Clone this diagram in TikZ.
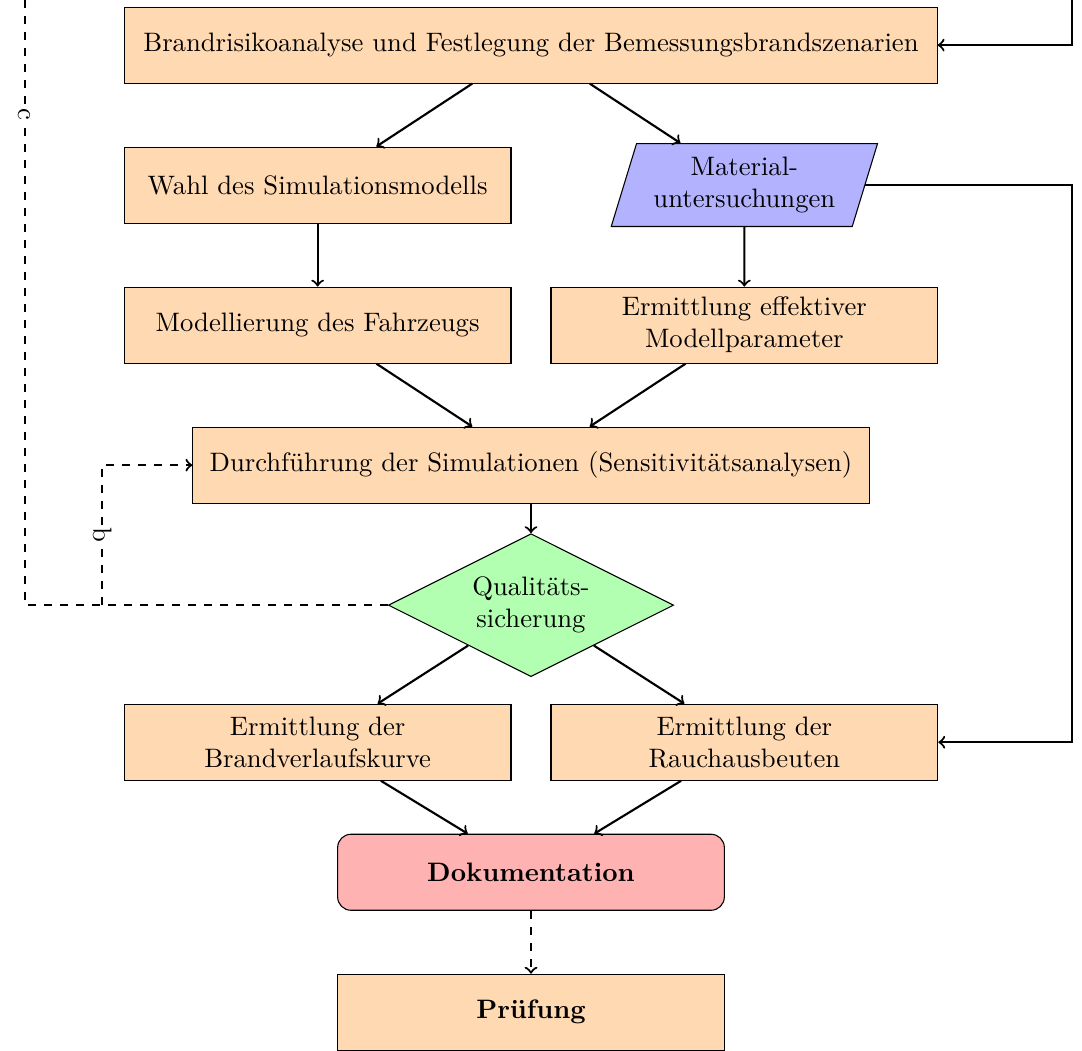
\documentclass[tikz,border=0pt]{standalone}
\usepackage{tikz}
\usetikzlibrary{positioning, shapes.geometric}

\begin{document}
\begin{tikzpicture}[on grid, node distance=52.5pt and 80pt,
	box/.style={rectangle, draw, fill=orange!30, minimum width=145pt, minimum height=28.5pt, align=center},
	io/.style={trapezium, trapezium left angle=73, trapezium right angle=107, draw, fill=blue!30, minimum width=100pt, minimum height=28.5pt, align=center, inner xsep=2pt},
	decision/.style={diamond, aspect=2, draw, fill=green!30, minimum width=107pt, minimum height=53.6pt, inner sep=0pt, align=center},
	doc/.style={box, rounded corners=5pt, fill=red!30, font=\bfseries},
	lbl/.style={fill=white, inner sep=1pt, rotate=-90}]
	\useasboundingbox (-199.1pt,16.9pt) rectangle (206.6pt,-376.9pt);
	\clip (-199.1pt,16.9pt) rectangle (206.6pt,-376.9pt);

	\node[box, minimum width=304.5pt] (risk) at (0,0) {Brandrisikoanalyse und Festlegung der Bemessungsbrandszenarien};
	\node[box, below left=of risk] (wahl) {Wahl des Simulationsmodells};
	\node[io, below right=of risk] (material) {Material-\\untersuchungen};
	\node[box, below=of wahl] (modell) {Modellierung des Fahrzeugs};
	\node[box, below=of material] (param) {Ermittlung effektiver\\Modellparameter};
	\node[box, below right=of modell, minimum width=253.5pt] (sim) {Durchführung der Simulationen (Sensitivitätsanalysen)};
	\node[decision, below=of sim] (qs) {Qualitäts-\\sicherung};
	\node[box, below left=51.4pt and 80pt of qs] (brand) {Ermittlung der\\Brandverlaufskurve};
	\node[box, below right=51.4pt and 80pt of qs] (rauch) {Ermittlung der\\Rauchausbeuten};
	\node[doc, below right=48.75pt and 80pt of brand] (doku) {Dokumentation};
	\node[box, below=of doku, font=\bfseries] (pruef) {Prüfung};

	\coordinate[right=50.25pt of rauch.east] (rcorner);
	\coordinate[above=300pt of rcorner] (rtop);
	\coordinate[left=33.75pt of sim.west] (bbend);
	\coordinate (bfork) at (bbend |- qs.west);
	\coordinate[left=136.1pt of qs.west] (cbend);
	\coordinate[above=368pt of cbend] (ctop);

	\path[->, thick] (risk) edge (wahl);
	\path[->, thick] (risk) edge (material);
	\path[->, thick] (wahl) edge (modell);
	\path[->, thick] (material) edge (param);
	\path[->, thick] (modell) edge (sim);
	\path[->, thick] (param) edge (sim);
	\path[->, thick] (sim) edge (qs);
	\path[->, thick] (qs) edge (brand);
	\path[->, thick] (qs) edge (rauch);
	\path[->, thick] (brand) edge (doku);
	\path[->, thick] (rauch) edge (doku);
	\path[->, thick, dashed] (doku) edge (pruef);

	\draw[->, thick] (material.east) -| (rcorner) -- (rauch.east);
	\draw[->, thick] (rtop) |- (risk.east);
	\draw[thick, dashed] (qs.west) -- (cbend) -- node[lbl] {c} (ctop);
	\draw[->, thick, dashed] (bfork) -- node[lbl] {b} (bbend) -- (sim.west);
\end{tikzpicture}
\end{document}
